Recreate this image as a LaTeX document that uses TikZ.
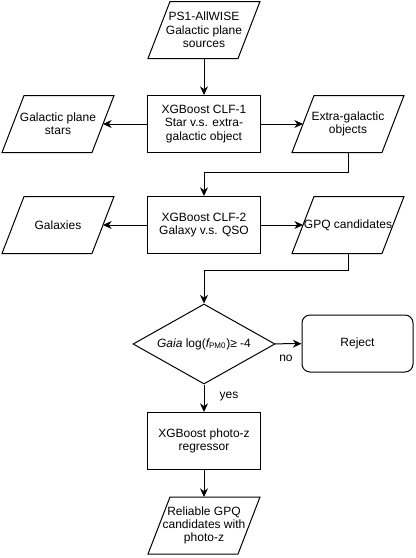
\documentclass[tikz,border=0pt]{standalone}
\usepackage{fontspec}
\setmainfont{Liberation Sans}
\usetikzlibrary{shapes.geometric,arrows.meta}

\tikzset{every picture/.style={line width=0.75pt}}
\tikzset{
	io/.style={rectangle, minimum width=67.5pt, minimum height=42.75pt, inner sep=0pt, outer sep=0pt, align=center,
		append after command={([xshift=-8.25pt]\tikzlastnode.south west) -- ([xshift=-8.25pt]\tikzlastnode.south east) -- ([xshift=8.25pt]\tikzlastnode.north east) -- ([xshift=8.25pt]\tikzlastnode.north west) -- cycle}},
	proc/.style={draw, rectangle, minimum width=84.75pt, minimum height=42.75pt, align=center},
	decide/.style={draw, diamond, aspect=1.775, minimum width=106.5pt, minimum height=60pt, inner sep=0pt},
	term/.style={draw, rectangle, rounded corners=6pt, minimum width=83.25pt, minimum height=42.75pt},
	flow/.style={-{Stealth[length=6.5pt,width=6pt]}}}

\begin{document}
\begin{tikzpicture}[x=0.75pt,y=0.75pt,yscale=-1,xscale=1,font=\fontsize{9}{10}\selectfont]
	\useasboundingbox (0,0) rectangle (415,558);

	%Data: input [id:src]
	\draw (204,30) node [io] (src) {PS1-AllWISE\\Galactic plane\\sources};
	%Process: first classifier [id:clfa]
	\draw (204,124) node [proc] (clfa) {XGBoost CLF-1\\Star v.s. extra-\\galactic object};
	%Data: stars [id:pstars]
	\draw (58,124) node [io] (pstars) {Galactic plane\\stars};
	%Data: extragalactic [id:extra]
	\draw (348,124) node [io] (extra) {Extra-galactic\\objects};
	%Process: second classifier [id:clfb]
	\draw (204,225) node [proc] (clfb) {XGBoost CLF-2\\Galaxy v.s. QSO};
	%Data: galaxies [id:galaxies]
	\draw (58,225) node [io] (galaxies) {Galaxies};
	%Data: candidates [id:gpq]
	\draw (348,225) node [io] (gpq) {GPQ candidates};
	%Decision: proper motion cut [id:cut]
	\draw (204,344) node [decide] (cut) {\itshape Gaia\upshape{} log(\itshape f\upshape\textsubscript{PM0})≥ -4};
	%Terminator: reject [id:reject]
	\draw (357.5,343.5) node [term] (reject) {Reject};
	%Process: regressor [id:reg]
	\draw (204,441) node [proc] (reg) {XGBoost photo-z\\regressor};
	%Data: output [id:final]
	\draw (204,525.5) node [io] (final) {Reliable GPQ\\candidates with\\photo-z};

	%Connectors
	\draw [flow] (src) -- (clfa);
	\draw [flow] (clfa) -- (pstars);
	\draw [flow] (clfa) -- (extra);
	\draw [flow] (extra.south) -- ++(0,20) -| (clfb.north);
	\draw [flow] (clfb) -- (galaxies);
	\draw [flow] (clfb) -- (gpq);
	\draw [flow] (gpq.south) -- ++(0,17) -| (cut.north);
	\draw [flow] (cut) -- (reject);
	\draw [flow] (cut) -- (reg);
	\draw [flow] (reg) -- (final);

	% Text Node
	\draw (286,358) node (lno) {no};
	% Text Node
	\draw (229,397) node (lyes) {yes};

\end{tikzpicture}
\end{document}
